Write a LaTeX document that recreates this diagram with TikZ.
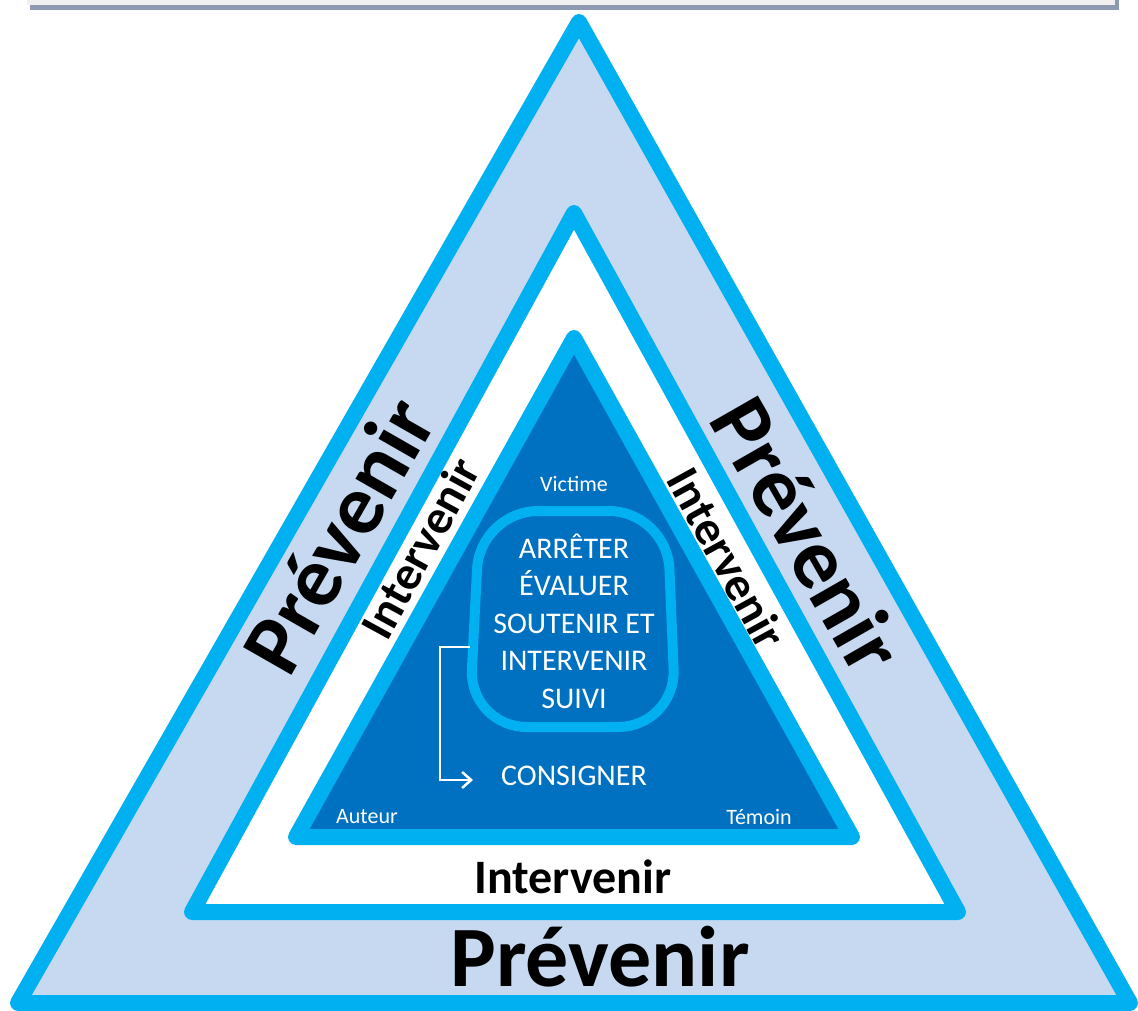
\documentclass[tikz,border=0pt]{standalone}
\usepackage{fontspec}
\setmainfont{Carlito}
\usetikzlibrary{arrows.meta}
\definecolor{cyanb}{HTML}{00B0F0}
\definecolor{lightb}{HTML}{C6D9F0}
\definecolor{darkb}{HTML}{0070C0}
\definecolor{barb}{HTML}{8E9AB2}
\definecolor{barfill}{HTML}{F0F0F0}
\tikzset{
  band/.style={draw=cyanb, line width=16pt, line join=round},
  bigword/.style={font=\bfseries\fontsize{86}{86}\selectfont, text=black, inner sep=0pt},
  midword/.style={font=\bfseries\fontsize{48}{48}\selectfont, text=black, inner sep=0pt},
  smallword/.style={font=\fontsize{22}{22}\selectfont, text=white, inner sep=0pt},
  inword/.style={font=\fontsize{30}{37.5}\selectfont, text=white, inner sep=0pt, align=center},
}
\begin{document}
\begin{tikzpicture}[x=1pt,y=-1pt]
\useasboundingbox (0,0) rectangle (1138,1011);
% top bar
\fill[barfill] (27,0) rectangle (1117,5);
\fill[barb] (30,5) rectangle (1119,10);
\fill[barb] (1115,0) rectangle (1119,10);
% outer triangle
\coordinate (oA) at (579,22);
\coordinate (oB) at (18,1003);
\coordinate (oC) at (1130,1003);
\filldraw[band, fill=lightb] (oA) -- (oB) -- (oC) -- cycle;
% middle triangle
\coordinate (mA) at (574,213);
\coordinate (mB) at (192,912);
\coordinate (mC) at (958,912);
\filldraw[band, fill=white] (mA) -- (mB) -- (mC) -- cycle;
% inner triangle
\coordinate (iA) at (574,338);
\coordinate (iB) at (296,837);
\coordinate (iC) at (852,837);
\filldraw[band, fill=darkb] (iA) -- (iB) -- (iC) -- cycle;
% rounded shape
\draw[draw=cyanb, line width=10pt, rounded corners=58pt]
  (480,511) -- (667,511) -- (676,727) -- (469,727) -- cycle;
\node[inword] (core) at (574,621) {ARRÊTER\\ÉVALUER\\SOUTENIR ET\\INTERVENIR\\SUIVI};
\node[inword, anchor=center] (consigner) at (574,776) {CONSIGNER};
\node[smallword] (victime) at (574,484) {Victime};
\node[smallword] (auteur) at (367,817) {Auteur};
\node[smallword] (temoin) at (759,817) {Témoin};
% arrow
\coordinate (arrS) at (470,647);
\coordinate (arrE) at (473,780);
\draw[white, line width=2.5pt, -{Straight Barb[length=9pt,width=16pt,line width=2.5pt]}]
  (arrS) -| (440,780) -- (arrE);
% labels
\node[bigword] (pb) at (600,957) {Prévenir};
\node[bigword, rotate=60.2] (pl) at (338,535) {Prévenir};
\node[bigword, rotate=-60.2] (pr) at (808,535) {Prévenir};
\node[midword] (ib) at (573,877) {Intervenir};
\node[midword, rotate=61.3] (il) at (420,548) {Intervenir};
\node[midword, rotate=-61.3] (ir) at (727,558) {Intervenir};
\end{tikzpicture}
\end{document}
